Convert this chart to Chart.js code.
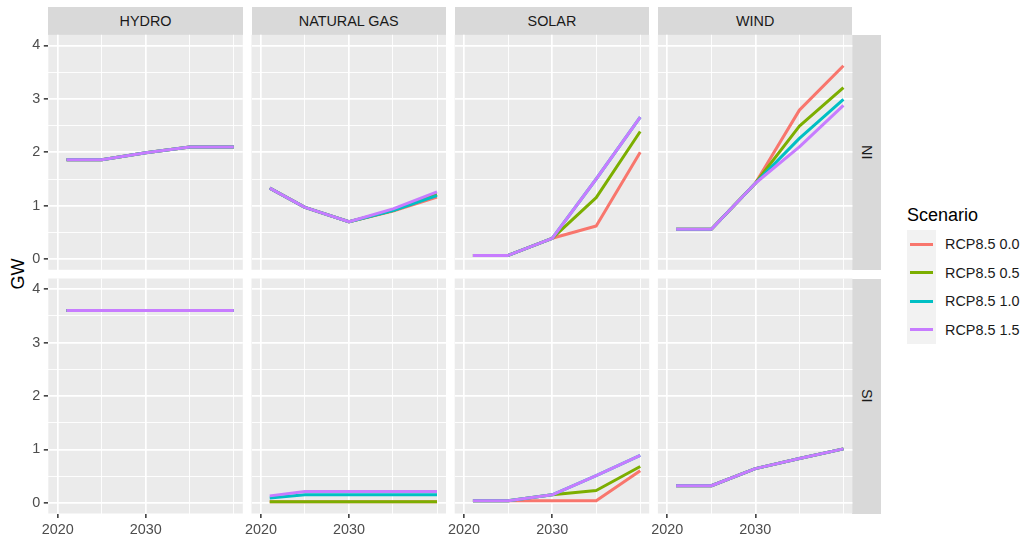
<!DOCTYPE html>
<html>
<head>
<meta charset="utf-8">
<title>Installed capacity by scenario</title>
<script src="https://cdn.jsdelivr.net/npm/chart.js@4.4.1/dist/chart.umd.min.js"></script>
<style>
  html, body { margin: 0; padding: 0; background: #FFFFFF; }
  body { width: 1029px; height: 539px; position: relative; overflow: hidden;
         font-family: "Liberation Sans", Arial, sans-serif; }
  canvas { position: absolute; }
  .strip { position: absolute; background: #D9D9D9; color: #1A1A1A; font-size: 14.4px;
           display: flex; align-items: center; justify-content: center; }
  .strip.side span { writing-mode: vertical-rl; }
  #ytitle { position: absolute; left: -12px; top: 264px; width: 60px; height: 20px; line-height: 20px;
            text-align: center; font-size: 18px; color: #000; transform: rotate(-90deg); }
  #legend { position: absolute; left: 907px; top: 200px; }
  #legend .title { position: absolute; left: 0; top: 5.5px; font-size: 18px; line-height: 18px;
                   color: #000; white-space: nowrap; }
  #legend .keys { position: absolute; left: -0.3px; top: 30px; width: 29px; height: 114px; background: #F2F2F2; }
  #legend .item { position: absolute; left: 0; height: 28.5px; width: 130px; }
  #legend .swatch { position: absolute; left: 3px; width: 23px; height: 3px; top: 12.75px; }
  #legend .lab { position: absolute; left: 38px; top: 0; height: 28.5px; line-height: 28.5px;
                 font-size: 14.4px; color: #1A1A1A; white-space: nowrap; }
</style>
</head>
<body>
<div id="ytitle">GW</div>
<div id="legend"><div class="title">Scenario</div><div class="keys"></div></div>
<script>
// ---- data -------------------------------------------------------------
const years = [2021, 2025, 2030, 2035, 2040];
const scenarios = ['RCP8.5 0.0', 'RCP8.5 0.5', 'RCP8.5 1.0', 'RCP8.5 1.5'];
const scenarioColors = ['#F8766D', '#7CAE00', '#00BFC4', '#C77CFF'];
const technologies = ['HYDRO', 'NATURAL GAS', 'SOLAR', 'WIND'];
const islands = ['NI', 'SI'];

const yTickValues = [0, 0.5, 1, 1.5, 2, 2.5, 3, 3.5, 4];
const yTickLabels = [0, 1, 2, 3, 4];
const xTickValues = [2020, 2025, 2030, 2035, 2040];
const xTickLabels = [2020, 2030];

// GW per scenario (rows in scenario order), per year
const hydroNI = [
  [1.86, 1.86, 1.99, 2.10, 2.10],
  [1.86, 1.86, 1.99, 2.10, 2.10],
  [1.86, 1.86, 1.99, 2.10, 2.10],
  [1.86, 1.86, 1.99, 2.10, 2.10]
];
const hydroSI = [
  [3.60, 3.60, 3.60, 3.60, 3.60],
  [3.60, 3.60, 3.60, 3.60, 3.60],
  [3.60, 3.60, 3.60, 3.60, 3.60],
  [3.60, 3.60, 3.60, 3.60, 3.60]
];
const gasNI = [
  [1.33, 0.97, 0.70, 0.90, 1.16],
  [1.33, 0.97, 0.70, 0.91, 1.21],
  [1.33, 0.97, 0.70, 0.91, 1.19],
  [1.33, 0.97, 0.70, 0.94, 1.26]
];
const gasSI = [
  [0.02, 0.02, 0.02, 0.02, 0.02],
  [0.02, 0.02, 0.02, 0.02, 0.02],
  [0.09, 0.15, 0.15, 0.15, 0.15],
  [0.13, 0.21, 0.21, 0.21, 0.21]
];
const solarNI = [
  [0.07, 0.07, 0.39, 0.62, 2.00],
  [0.07, 0.07, 0.39, 1.15, 2.39],
  [0.07, 0.07, 0.39, 1.50, 2.66],
  [0.07, 0.07, 0.39, 1.50, 2.66]
];
const solarSI = [
  [0.04, 0.04, 0.04, 0.04, 0.60],
  [0.04, 0.04, 0.15, 0.23, 0.68],
  [0.04, 0.04, 0.15, 0.51, 0.89],
  [0.04, 0.04, 0.15, 0.51, 0.89]
];
const windNI = [
  [0.56, 0.56, 1.42, 2.79, 3.62],
  [0.56, 0.56, 1.42, 2.49, 3.21],
  [0.56, 0.56, 1.42, 2.26, 2.99],
  [0.56, 0.56, 1.42, 2.10, 2.88]
];
const windSI = [
  [0.32, 0.32, 0.64, 0.83, 1.01],
  [0.32, 0.32, 0.64, 0.83, 1.01],
  [0.32, 0.32, 0.64, 0.83, 1.01],
  [0.32, 0.32, 0.64, 0.83, 1.01]
];

const panelSeries = {
  NI: [hydroNI, gasNI, solarNI, windNI],
  SI: [hydroSI, gasSI, solarSI, windSI]
};

// ---- layout -----------------------------------------------------------
const PANEL_LEFT = [48.3, 251.5, 454.7, 657.9];
const PANEL_W = 194.5;
const PANEL_TOP = [34.8, 278.5];
const PANEL_H = 235;
const STRIP = 28;
const FONT = '"Liberation Sans", Arial, sans-serif';
const PAGE_H = 539;

const panelBg = {
  id: 'panelBg',
  beforeDraw(chart) {
    const { ctx, chartArea: a } = chart;
    ctx.save();
    ctx.fillStyle = '#EBEBEB';
    ctx.fillRect(a.left, a.top, a.right - a.left, a.bottom - a.top);
    ctx.restore();
  }
};

function zeroPadding(scale) {
  scale.paddingLeft = 0; scale.paddingRight = 0;
  scale.paddingTop = 0; scale.paddingBottom = 0;
}

function makePanel(col, row) {
  const series = panelSeries[islands[row]][col];
  const pLeft = PANEL_LEFT[col];
  const pTop = PANEL_TOP[row];
  const pRight = pLeft + PANEL_W;
  const pBottom = pTop + PANEL_H;

  const cLeft = col === 0 ? 0 : Math.floor(pLeft) - 8;
  const cTop = Math.floor(pTop);
  const cW = Math.ceil(pRight) - cLeft;
  const cH = row === 1 ? PAGE_H - cTop : Math.ceil(pBottom) - cTop;

  const yAxisW = col === 0 ? pLeft - cLeft : 0;
  const xAxisH = row === 1 ? PAGE_H - pBottom : 0;

  const canvas = document.createElement('canvas');
  canvas.width = cW; canvas.height = cH;
  canvas.style.left = cLeft + 'px'; canvas.style.top = cTop + 'px';
  canvas.style.width = cW + 'px'; canvas.style.height = cH + 'px';
  document.body.appendChild(canvas);

  const datasets = series.map((vals, i) => ({
    label: scenarios[i],
    data: years.map((yr, k) => ({ x: yr, y: vals[k] })),
    borderColor: scenarioColors[i],
    backgroundColor: scenarioColors[i],
    borderWidth: 3,
    pointRadius: 0,
    tension: 0,
    fill: false,
    borderCapStyle: 'butt',
    borderJoinStyle: 'round',
    order: scenarios.length - 1 - i
  }));

  new Chart(canvas, {
    type: 'line',
    data: { datasets },
    plugins: [panelBg],
    options: {
      responsive: false,
      animation: false,
      events: [],
      devicePixelRatio: 1,
      layout: {
        padding: {
          left: col === 0 ? 0 : pLeft - cLeft,
          top: pTop - cTop,
          right: cLeft + cW - pRight,
          bottom: row === 1 ? 0 : cTop + cH - pBottom
        }
      },
      plugins: { legend: { display: false }, tooltip: { enabled: false } },
      scales: {
        x: {
          type: 'linear',
          min: 2018.93,
          max: 2041.02,
          afterBuildTicks: s => { s.ticks = xTickValues.map(v => ({ value: v })); },
          afterFit: s => { s.height = xAxisH; zeroPadding(s); },
          border: { display: false },
          grid: {
            color: '#FFFFFF',
            lineWidth: c => (c.tick && xTickLabels.includes(c.tick.value)) ? 1.7 : 0.9,
            drawTicks: row === 1,
            tickLength: 4.5,
            tickWidth: 1.5,
            tickColor: c => (c.tick && xTickLabels.includes(c.tick.value)) ? '#333333' : 'rgba(0,0,0,0)'
          },
          ticks: {
            display: row === 1,
            autoSkip: false,
            maxRotation: 0,
            padding: 3.6,
            color: '#4D4D4D',
            font: { family: FONT, size: 14.4 },
            callback: v => xTickLabels.includes(v) ? String(v) : ''
          }
        },
        y: {
          type: 'linear',
          min: -0.2,
          max: 4.2,
          afterBuildTicks: s => { s.ticks = yTickValues.map(v => ({ value: v })); },
          afterFit: s => { s.width = yAxisW; zeroPadding(s); },
          border: { display: false },
          grid: {
            color: '#FFFFFF',
            lineWidth: c => (c.tick && yTickLabels.includes(c.tick.value)) ? 1.7 : 0.9,
            drawTicks: col === 0,
            tickLength: 4.5,
            tickWidth: 1.5,
            tickColor: c => (c.tick && yTickLabels.includes(c.tick.value)) ? '#333333' : 'rgba(0,0,0,0)'
          },
          ticks: {
            display: col === 0,
            autoSkip: false,
            padding: 3.6,
            color: '#4D4D4D',
            font: { family: FONT, size: 14.4 },
            callback: v => yTickLabels.includes(v) ? String(v) : ''
          }
        }
      }
    }
  });
}

// facet strips
technologies.forEach((tech, col) => {
  const d = document.createElement('div');
  d.className = 'strip';
  d.style.left = PANEL_LEFT[col] + 'px';
  d.style.top = (PANEL_TOP[0] - STRIP) + 'px';
  d.style.width = PANEL_W + 'px';
  d.style.height = STRIP + 'px';
  d.textContent = tech;
  document.body.appendChild(d);
});
islands.forEach((isl, row) => {
  const d = document.createElement('div');
  d.className = 'strip side';
  d.style.left = (PANEL_LEFT[3] + PANEL_W) + 'px';
  d.style.top = PANEL_TOP[row] + 'px';
  d.style.width = '28.3px';
  d.style.height = PANEL_H + 'px';
  const s = document.createElement('span');
  s.textContent = isl;
  d.appendChild(s);
  document.body.appendChild(d);
});

// legend
const legend = document.getElementById('legend');
scenarios.forEach((name, i) => {
  const item = document.createElement('div');
  item.className = 'item';
  item.style.top = (30 + i * 28.5) + 'px';
  const sw = document.createElement('div');
  sw.className = 'swatch';
  sw.style.background = scenarioColors[i];
  const lab = document.createElement('div');
  lab.className = 'lab';
  lab.textContent = name;
  item.appendChild(sw);
  item.appendChild(lab);
  legend.appendChild(item);
});

for (let row = 0; row < islands.length; row++) {
  for (let col = 0; col < technologies.length; col++) {
    makePanel(col, row);
  }
}
</script>
</body>
</html>
